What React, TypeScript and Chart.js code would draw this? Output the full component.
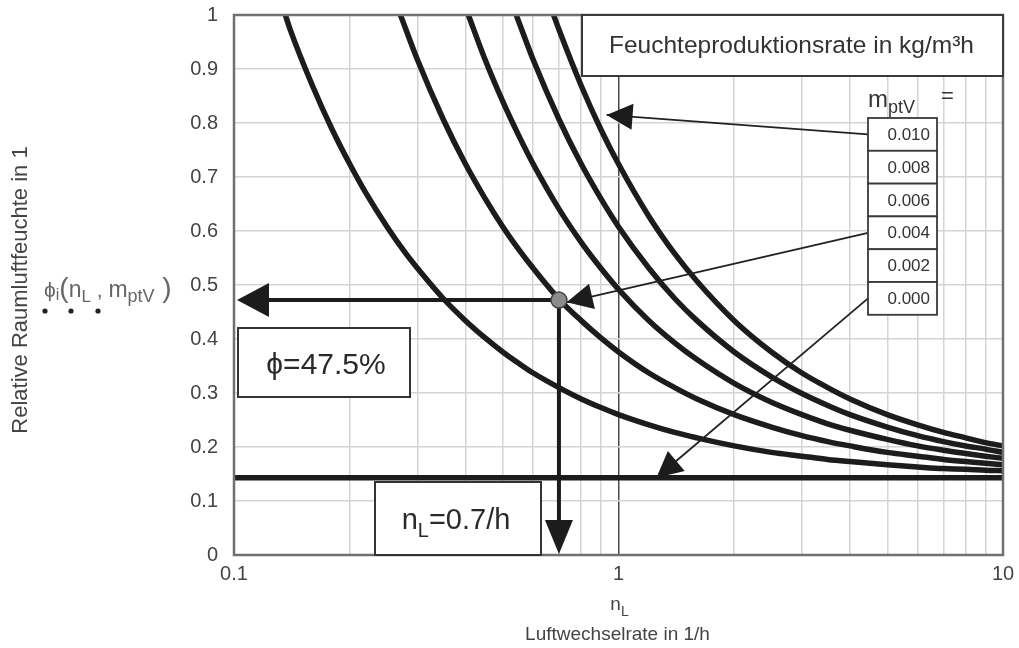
import React, { useEffect, useRef } from 'react';
import { Chart, registerables } from 'chart.js';

Chart.register(...registerables);

// ---- data ----
const nLGrid = [0.14, 0.16, 0.18, 0.2, 0.22, 0.25, 0.28, 0.3, 0.35, 0.4, 0.45, 0.5, 0.55, 0.6, 0.7, 0.8, 0.9, 1, 1.2, 1.4, 1.6, 2, 2.5, 3, 3.5, 4, 5, 6, 7, 8, 9, 10];

const phi002 = [0.973, 0.869, 0.788, 0.724, 0.671, 0.608, 0.558, 0.531, 0.475, 0.434, 0.402, 0.376, 0.355, 0.337, 0.31, 0.289, 0.273, 0.26, 0.241, 0.227, 0.217, 0.202, 0.19, 0.183, 0.177, 0.173, 0.167, 0.163, 0.16, 0.159, 0.157, 0.156];
const phi004 = [null, null, null, null, null, null, 0.973, 0.917, 0.807, 0.724, 0.66, 0.608, 0.566, 0.531, 0.474, 0.434, 0.402, 0.376, 0.337, 0.31, 0.289, 0.26, 0.237, 0.221, 0.21, 0.202, 0.19, 0.183, 0.177, 0.173, 0.17, 0.167];
const phi006 = [null, null, null, null, null, null, null, null, null, null, 0.917, 0.84, 0.777, 0.724, 0.641, 0.579, 0.531, 0.492, 0.434, 0.393, 0.362, 0.318, 0.283, 0.26, 0.243, 0.231, 0.214, 0.202, 0.194, 0.188, 0.183, 0.179];
const phi008 = [null, null, null, null, null, null, null, null, null, null, null, null, 0.988, 0.917, 0.807, 0.724, 0.66, 0.608, 0.531, 0.475, 0.434, 0.376, 0.33, 0.299, 0.277, 0.26, 0.237, 0.221, 0.21, 0.202, 0.196, 0.19];
const phi010 = [null, null, null, null, null, null, null, null, null, null, null, null, null, null, 0.973, 0.869, 0.788, 0.724, 0.627, 0.558, 0.507, 0.434, 0.376, 0.337, 0.31, 0.289, 0.26, 0.241, 0.227, 0.217, 0.208, 0.202];

// where each curve leaves the top edge (phi = 1)
const curveTopN = [0.136, 0.271, 0.407, 0.542, 0.678];
const curveSeries = [phi002, phi004, phi006, phi008, phi010];

const baselineN = [0.1, 10];
const baselinePhi = [0.143, 0.143];

const legendLabels = ['0.010', '0.008', '0.006', '0.004', '0.002', '0.000'];
const xGridTicks = [0.1, 0.2, 0.3, 0.4, 0.5, 0.6, 0.7, 0.8, 0.9, 1, 2, 3, 4, 5, 6, 7, 8, 9, 10];
const xTickLabels = ['0.1', '1', '10'];

const operatingN = 0.7;
const operatingPhi = 0.472;

// arrows from legend rows to curves: [row index, nL, phi]
const arrowRows = [0, 3, 5];
const arrowTipN = [0.931, 0.733, 1.255];
const arrowTipPhi = [0.815, 0.468, 0.143];

const FONT = 'Liberation Sans, Arial, Helvetica, sans-serif';

function buildCurve(topN: number, phis: (number | null)[]) {
  const pts: { x: number; y: number }[] = [{ x: topN, y: 1 }];
  nLGrid.forEach((n, i) => {
    const v = phis[i];
    if (v != null && n > topN) pts.push({ x: n, y: v });
  });
  return pts;
}

function arrowHead(ctx: CanvasRenderingContext2D, tx: number, ty: number, fx: number, fy: number, len: number, hw: number) {
  const dx = tx - fx, dy = ty - fy;
  const d = Math.hypot(dx, dy) || 1;
  const ux = dx / d, uy = dy / d;
  const bx = tx - ux * len, by = ty - uy * len;
  ctx.beginPath();
  ctx.moveTo(tx, ty);
  ctx.lineTo(bx - uy * hw, by + ux * hw);
  ctx.lineTo(bx + uy * hw, by - ux * hw);
  ctx.closePath();
  ctx.fill();
}

type Seg = [string, number, number];
function richText(ctx: CanvasRenderingContext2D, segs: Seg[], x: number, y: number, align: 'left' | 'center') {
  let total = 0;
  const widths = segs.map(([t, s]) => {
    ctx.font = `${s}px ${FONT}`;
    const w = ctx.measureText(t).width;
    total += w;
    return w;
  });
  let cx = align === 'center' ? x - total / 2 : x;
  ctx.textAlign = 'left';
  ctx.textBaseline = 'alphabetic';
  segs.forEach(([t, s, dy], i) => {
    ctx.font = `${s}px ${FONT}`;
    ctx.fillText(t, cx, y + dy);
    cx += widths[i];
  });
}

const overlayPlugin = {
  id: 'overlay',
  afterDatasetsDraw(chart: any) {
    const { ctx, chartArea: ca, scales } = chart;
    const xs = scales.x, ys = scales.y;
    ctx.save();

    // frame
    ctx.strokeStyle = '#707070';
    ctx.lineWidth = 2.5;
    ctx.strokeRect(ca.left, ca.top, ca.right - ca.left, ca.bottom - ca.top);

    ctx.strokeStyle = '#2e2e2e';
    ctx.fillStyle = '#1c1c1c';

    // operating point arrows
    const px = xs.getPixelForValue(operatingN);
    const py = ys.getPixelForValue(operatingPhi);
    ctx.lineWidth = 4;
    ctx.strokeStyle = '#1c1c1c';
    ctx.beginPath();
    ctx.moveTo(px, py);
    ctx.lineTo(ca.left + 20, py);
    ctx.stroke();
    arrowHead(ctx, ca.left + 3, py, px, py, 32, 17);
    ctx.beginPath();
    ctx.moveTo(px, py);
    ctx.lineTo(px, ca.bottom - 20);
    ctx.stroke();
    arrowHead(ctx, px, ca.bottom - 1, px, py, 34, 14);

    // title box
    const tbL = ca.right - 421, tbT = ca.top, tbW = 421, tbH = 61;
    ctx.fillStyle = '#ffffff';
    ctx.fillRect(tbL, tbT, tbW, tbH);
    ctx.lineWidth = 2;
    ctx.strokeStyle = '#3a3a3a';
    ctx.strokeRect(tbL, tbT, tbW, tbH);
    ctx.fillStyle = '#333';
    ctx.font = `24.5px ${FONT}`;
    ctx.textAlign = 'center';
    ctx.textBaseline = 'middle';
    ctx.fillText('Feuchteproduktionsrate in kg/m³h', tbL + tbW / 2 - 1, tbT + tbH / 2 + 1);

    // legend header
    ctx.fillStyle = '#333';
    const lgL = ca.right - 135, lgT = ca.top + 103, lgW = 69, rowH = 32.8;
    richText(ctx, [['m', 24, 0], ['ptV', 18, 6]], lgL, lgT - 11, 'left');
    ctx.font = `22px ${FONT}`;
    ctx.textAlign = 'left';
    ctx.fillText('=', lgL + 73, lgT - 15);

    // arrows from legend
    ctx.strokeStyle = '#222';
    ctx.fillStyle = '#1c1c1c';
    ctx.lineWidth = 1.8;
    arrowRows.forEach((r, i) => {
      const sx = lgL, sy = lgT + rowH * (r + 0.5);
      const tx = xs.getPixelForValue(arrowTipN[i]);
      const ty = ys.getPixelForValue(arrowTipPhi[i]);
      ctx.beginPath();
      ctx.moveTo(sx, sy);
      ctx.lineTo(tx, ty);
      ctx.stroke();
      arrowHead(ctx, tx, ty, sx, sy, 26, 13);
    });

    // legend boxes
    legendLabels.forEach((lab, i) => {
      const t = lgT + rowH * i;
      ctx.fillStyle = '#fff';
      ctx.fillRect(lgL, t, lgW, rowH);
      ctx.strokeStyle = '#3a3a3a';
      ctx.lineWidth = 1.8;
      ctx.strokeRect(lgL, t, lgW, rowH);
      ctx.fillStyle = '#333';
      ctx.font = `17px ${FONT}`;
      ctx.textAlign = 'right';
      ctx.textBaseline = 'middle';
      ctx.fillText(lab, lgL + lgW - 7, t + rowH / 2 + 1);
    });

    // operating point
    ctx.beginPath();
    ctx.arc(px, py, 8, 0, Math.PI * 2);
    ctx.fillStyle = '#8c8c8c';
    ctx.fill();
    ctx.lineWidth = 1.5;
    ctx.strokeStyle = '#444';
    ctx.stroke();

    // phi box
    const fbL = ca.left + 4, fbT = ca.top + 313, fbW = 172, fbH = 69;
    ctx.fillStyle = '#fff';
    ctx.fillRect(fbL, fbT, fbW, fbH);
    ctx.lineWidth = 2;
    ctx.strokeStyle = '#333';
    ctx.strokeRect(fbL, fbT, fbW, fbH);
    ctx.fillStyle = '#2a2a2a';
    richText(ctx, [['ϕ', 30, 0], ['=47.5%', 30, 0]], fbL + fbW / 2 + 2, fbT + fbH / 2 + 11, 'center');

    // nL box
    const nbL = ca.left + 141, nbT = ca.top + 467, nbW = 166, nbH = ca.bottom - (ca.top + 467);
    ctx.fillStyle = '#fff';
    ctx.fillRect(nbL, nbT, nbW, nbH);
    ctx.strokeStyle = '#333';
    ctx.strokeRect(nbL, nbT, nbW, nbH);
    ctx.fillStyle = '#2a2a2a';
    richText(ctx, [['n', 29, 0], ['L', 20, 8], ['=0.7/h', 29, 0]], nbL + nbW / 2 - 2, nbT + nbH / 2 + 10, 'center');

    ctx.restore();
  },
  afterDraw(chart: any) {
    const { ctx, chartArea: ca } = chart;
    ctx.save();
    // y title
    ctx.fillStyle = '#444';
    ctx.font = `22px ${FONT}`;
    ctx.textAlign = 'center';
    ctx.textBaseline = 'middle';
    ctx.translate(21, 290);
    ctx.rotate(-Math.PI / 2);
    ctx.fillText('Relative Raumluftfeuchte in 1', 0, 0);
    ctx.restore();

    ctx.save();
    // left annotation
    ctx.fillStyle = '#666';
    richText(ctx, [['ϕ', 21, 0], ['i', 16, 3], ['(', 28, 0], ['n', 23, 0], ['L', 17, 5], [' , ', 21, 0], ['m', 23, 0], ['ptV', 18, 5], [' )', 28, 0]], 44, 297, 'left');
    ctx.fillStyle = '#222';
    [45, 71, 98].forEach((dx) => {
      ctx.beginPath();
      ctx.arc(dx, 311, 2.6, 0, Math.PI * 2);
      ctx.fill();
    });

    // x title
    const cx = (ca.left + ca.right) / 2;
    ctx.fillStyle = '#444';
    richText(ctx, [['n', 19, 0], ['L', 14, 6]], cx + 1, 610, 'center');
    ctx.font = `19px ${FONT}`;
    ctx.textAlign = 'center';
    ctx.textBaseline = 'alphabetic';
    ctx.fillText('Luftwechselrate in 1/h', cx - 1, 640);
    ctx.restore();
  },
};

export default function App() {
  const ref = useRef<HTMLCanvasElement | null>(null);

  useEffect(() => {
    if (!ref.current) return;
    const curveColor = '#1c1c1c';
    const datasets: any[] = curveSeries.map((phis, i) => ({
      label: legendLabels[4 - i],
      data: buildCurve(curveTopN[i], phis),
      borderColor: curveColor,
      borderWidth: 5.5,
      pointRadius: 0,
      fill: false,
      cubicInterpolationMode: 'monotone',
    }));
    datasets.push({
      label: '0.000',
      data: baselineN.map((n, i) => ({ x: n, y: baselinePhi[i] })),
      borderColor: curveColor,
      borderWidth: 5.5,
      pointRadius: 0,
      fill: false,
    });

    const chart = new Chart(ref.current, {
      type: 'line',
      data: { datasets },
      options: {
        responsive: false,
        maintainAspectRatio: false,
        animation: false,
        parsing: false as any,
        layout: { padding: { left: 0, right: 16, top: 15, bottom: 0 } },
        plugins: { legend: { display: false }, tooltip: { enabled: false } },
        scales: {
          x: {
            type: 'logarithmic',
            min: 0.1,
            max: 10,
            afterBuildTicks: (s: any) => {
              s.ticks = xGridTicks.map((v) => ({ value: v }));
            },
            afterFit: (s: any) => {
              s.height = 93;
              s.paddingLeft = 0;
              s.paddingRight = 0;
            },
            ticks: {
              autoSkip: false,
              maxRotation: 0,
              minRotation: 0,
              padding: 7,
              color: '#444',
              font: { size: 20, family: FONT },
              callback: (v: any) => {
                const lab = xTickLabels.find((t) => Math.abs(parseFloat(t) - Number(v)) < 1e-9);
                return lab ?? '';
              },
            },
            grid: {
              drawTicks: false,
              lineWidth: 1.5,
              color: (c: any) => (c.tick && Math.abs(c.tick.value - 1) < 1e-9 ? '#4a4a4a' : '#d4d4d4'),
            },
            border: { display: false },
          },
          y: {
            type: 'linear',
            min: 0,
            max: 1,
            afterFit: (s: any) => {
              s.width = 234;
              s.paddingTop = 0;
              s.paddingBottom = 0;
            },
            ticks: {
              stepSize: 0.1,
              padding: 16,
              color: '#444',
              font: { size: 20, family: FONT },
              callback: (v: any) => {
                const n = Number(v);
                if (Math.abs(n) < 1e-9) return '0';
                if (Math.abs(n - 1) < 1e-9) return '1';
                return n.toFixed(1);
              },
            },
            grid: { drawTicks: false, lineWidth: 1.5, color: '#d4d4d4' },
            border: { display: false },
          },
        },
      },
      plugins: [overlayPlugin],
    });
    return () => chart.destroy();
  }, []);

  return (
    <div style={{ position: 'absolute', left: 0, top: 0, width: 1019, height: 648, background: '#fff' }}>
      <canvas ref={ref} width={1019} height={648} style={{ display: 'block', width: 1019, height: 648 }} />
    </div>
  );
}
